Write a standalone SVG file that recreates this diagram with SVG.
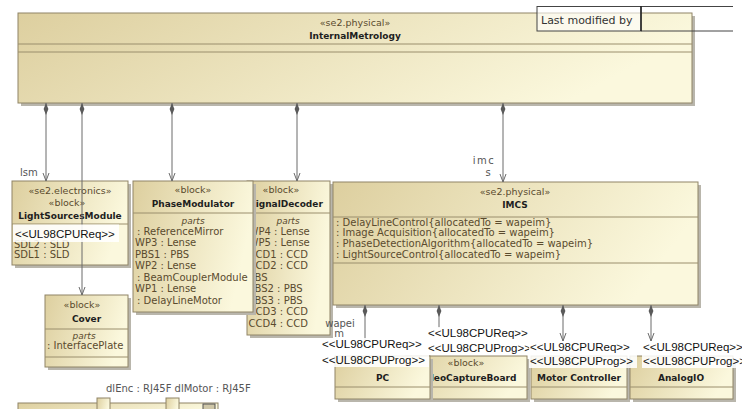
<svg xmlns="http://www.w3.org/2000/svg" width="742" height="409" viewBox="0 0 742 409">
  <defs>
    <linearGradient id="fillBlock" x1="0" y1="0" x2="1" y2="0.25">
      <stop offset="0" stop-color="#ddcf9f"/>
      <stop offset="1" stop-color="#fbf8dd"/>
    </linearGradient>
    <marker id="arrowOpen" markerWidth="10" markerHeight="10" refX="8" refY="4" orient="auto" markerUnits="userSpaceOnUse">
      <path d="M0,1 L8,4 L0,7" fill="none" stroke="#6a6a6a" stroke-width="1"/>
    </marker>
    <marker id="diamond" markerWidth="14" markerHeight="8" refX="0" refY="3" orient="auto" markerUnits="userSpaceOnUse">
      <path d="M0,3 L6,0.6 L12,3 L6,5.4 Z" fill="#5a5a5a"/>
    </marker>
    <style>
      .box{fill:url(#fillBlock);stroke:#8f8466;stroke-width:1}
      .shadow{fill:#b9b6ac}
      .div{stroke:#9a8e6c;stroke-width:1;fill:none}
      .st{font-family:"DejaVu Sans",sans-serif;font-size:9.5px;fill:#5a4b2e;text-anchor:middle}
      .nm{font-family:"DejaVu Sans",sans-serif;font-size:9px;font-weight:bold;fill:#1e1e1e;text-anchor:middle}
      .it{font-family:"DejaVu Sans",sans-serif;font-size:9px;font-style:italic;fill:#5a4b2e;text-anchor:middle}
      .pt{font-family:"DejaVu Sans",sans-serif;font-size:10px;fill:#5a4b2e}
      .lbl{font-family:"DejaVu Sans",sans-serif;font-size:10px;fill:#555}
      .ul{font-family:"Liberation Sans",Arial,sans-serif;font-size:11.5px;fill:#111}
      .ulbg{fill:#ffffff;fill-opacity:0.88}
      .conn{stroke:#6a6a6a;stroke-width:1;fill:none}
    </style>
  </defs>

  <!-- top level block -->
  <g id="InternalMetrology">
    <rect class="shadow" x="21" y="16" width="674" height="90"/>
    <rect class="box" x="18" y="13" width="674" height="90"/>
    <line class="div" x1="18" y1="44" x2="692" y2="44"/>
    <line class="div" x1="18" y1="52" x2="692" y2="52"/>
    <text class="st" x="355" y="26">«se2.physical»</text>
    <text class="nm" x="355" y="38.5">InternalMetrology</text>
  </g>

  <!-- frame info table -->
  <g id="LastModified">
    <rect x="537" y="6.5" width="104" height="24.5" fill="#ffffff" fill-opacity="0.6" stroke="#444" stroke-width="1"/>
    <line x1="641" y1="6.5" x2="733" y2="6.5" stroke="#444" stroke-width="1"/>
    <line x1="641" y1="31" x2="733" y2="31" stroke="#444" stroke-width="1"/>
    <line x1="641" y1="6" x2="641" y2="31" stroke="#222" stroke-width="1.5"/>
    <text x="541" y="24" font-family="DejaVu Sans, sans-serif" font-size="11" fill="#333">Last modified by</text>
  </g>

  <g id="LightSourcesModule">
    <rect class="shadow" x="15" y="184" width="116" height="84"/>
    <rect class="box" x="12" y="181" width="116" height="84"/>
    <text class="st" x="70" y="194">«se2.electronics»</text>
    <text class="st" x="67" y="206">«block»</text>
    <text class="nm" x="70" y="219">LightSourcesModule</text>
    <line class="div" x1="12" y1="224" x2="128" y2="224"/>
    <text class="pt" x="14" y="248">SDL2 : SLD</text>
    <text class="pt" x="14" y="258">SDL1 : SLD</text>
  </g>

  <g id="SignalDecoder">
    <rect class="shadow" x="250" y="184" width="83" height="154"/>
    <rect class="box" x="247" y="181" width="83" height="154"/>
    <text class="st" x="281" y="193">«block»</text>
    <text class="nm" x="286" y="207">SignalDecoder</text>
    <line class="div" x1="247" y1="213" x2="330" y2="213"/>
    <text class="it" x="288" y="224">parts</text>
    <text class="pt" x="248.5" y="234.5">WP4 : Lense</text>
    <text class="pt" x="248.5" y="246">WP5 : Lense</text>
    <text class="pt" x="248.5" y="257.5">CCD1 : CCD</text>
    <text class="pt" x="248.5" y="269">CCD2 : CCD</text>
    <text class="pt" x="248.5" y="280.5">PBS</text>
    <text class="pt" x="248.5" y="292">PBS2 : PBS</text>
    <text class="pt" x="248.5" y="303.5">PBS3 : PBS</text>
    <text class="pt" x="248.5" y="315">CCD3 : CCD</text>
    <text class="pt" x="248.5" y="326.5">CCD4 : CCD</text>
  </g>

  <g id="PhaseModulator">
    <rect class="shadow" x="136" y="184" width="120" height="131"/>
    <rect class="box" x="133" y="181" width="120" height="131"/>
    <text class="st" x="193" y="193">«block»</text>
    <text class="nm" x="193" y="207">PhaseModulator</text>
    <line class="div" x1="133" y1="213" x2="253" y2="213"/>
    <text class="it" x="193" y="224">parts</text>
    <text class="pt" x="137" y="234.5">: ReferenceMirror</text>
    <text class="pt" x="135" y="246">WP3 : Lense</text>
    <text class="pt" x="135" y="257.5">PBS1 : PBS</text>
    <text class="pt" x="135" y="269">WP2 : Lense</text>
    <text class="pt" x="137" y="280.5">: BeamCouplerModule</text>
    <text class="pt" x="135" y="292">WP1 : Lense</text>
    <text class="pt" x="137" y="303.5">: DelayLineMotor</text>
  </g>

  <g id="Cover">
    <rect class="shadow" x="48" y="298" width="83" height="72"/>
    <rect class="box" x="45" y="295" width="83" height="72"/>
    <text class="st" x="82" y="307.5">«block»</text>
    <text class="nm" x="86.5" y="322">Cover</text>
    <line class="div" x1="45" y1="329" x2="128" y2="329"/>
    <text class="it" x="84" y="339">parts</text>
    <text class="pt" x="47" y="349">: InterfacePlate</text>
    <line class="div" x1="45" y1="357" x2="128" y2="357"/>
  </g>

  <g id="IMCS">
    <rect class="shadow" x="336" y="185" width="365" height="123"/>
    <rect class="box" x="333" y="182" width="365" height="123"/>
    <text class="st" x="515" y="195">«se2.physical»</text>
    <text class="nm" x="515" y="207.5">IMCS</text>
    <line class="div" x1="333" y1="217" x2="698" y2="217"/>
    <text class="pt" x="336" y="225.5">: DelayLineControl{allocatedTo = wapeim}</text>
    <text class="pt" x="336" y="236">: Image Acquisition{allocatedTo = wapeim}</text>
    <text class="pt" x="336" y="247">: PhaseDetectionAlgorithm{allocatedTo = wapeim}</text>
    <text class="pt" x="336" y="258">: LightSourceControl{allocatedTo = wapeim}</text>
    <line class="div" x1="333" y1="263" x2="698" y2="263"/>
  </g>

  <g id="VideoCaptureBoard">
    <rect class="shadow" x="408" y="359" width="122" height="43"/>
    <rect class="box" x="405" y="356" width="122" height="43"/>
    <text class="st" x="466" y="365.5">«block»</text>
    <text class="nm" x="467" y="380.5">VideoCaptureBoard</text>
    <line class="div" x1="405" y1="387" x2="527" y2="387"/>
  </g>

  <g id="PC">
    <rect class="shadow" x="338" y="359" width="95" height="43"/>
    <rect class="box" x="335" y="356" width="95" height="43"/>
    <text class="nm" x="382.5" y="380.5">PC</text>
    <line class="div" x1="335" y1="387" x2="430" y2="387"/>
  </g>

  <g id="MotorController">
    <rect class="shadow" x="534" y="359" width="96" height="43"/>
    <rect class="box" x="531" y="356" width="96" height="43"/>
    <text class="nm" x="579" y="380.5">Motor Controller</text>
    <line class="div" x1="531" y1="387" x2="627" y2="387"/>
  </g>

  <g id="AnalogIO">
    <rect class="shadow" x="633" y="359" width="103" height="43"/>
    <rect class="box" x="630" y="356" width="103" height="43"/>
    <text class="nm" x="681" y="380.5">AnalogIO</text>
    <line class="div" x1="630" y1="387" x2="733" y2="387"/>
  </g>

  <g id="PortBlock">
    <rect class="box" x="18" y="403" width="200" height="12"/>
    <rect class="box" x="97" y="398" width="13" height="14" fill="#f7f2d2"/>
    <rect class="box" x="166" y="398" width="13" height="14" fill="#f7f2d2"/>
    <rect x="203" y="404" width="12" height="8" fill="#cfc7a8" stroke="#555" stroke-width="1"/>
    <text class="lbl" x="106" y="392" fill="#444">dlEnc : RJ45F dlMotor : RJ45F</text>
  </g>

  <!-- part associations -->
  <g id="connectors">
    <path class="conn" d="M46,103 V181" marker-start="url(#diamond)" marker-end="url(#arrowOpen)"/>
    <path class="conn" d="M82,103 V295" marker-start="url(#diamond)" marker-end="url(#arrowOpen)"/>
    <path class="conn" d="M172,103 V181" marker-start="url(#diamond)" marker-end="url(#arrowOpen)"/>
    <path class="conn" d="M297,103 V181" marker-start="url(#diamond)" marker-end="url(#arrowOpen)"/>
    <path class="conn" d="M503,103 V182" marker-start="url(#diamond)" marker-end="url(#arrowOpen)"/>
    <path class="conn" d="M365,305 V340" marker-start="url(#diamond)"/>
    <path class="conn" d="M439,305 V328" marker-start="url(#diamond)"/>
    <path class="conn" d="M563,305 V341" marker-start="url(#diamond)" marker-end="url(#arrowOpen)"/>
    <path class="conn" d="M651,305 V341" marker-start="url(#diamond)" marker-end="url(#arrowOpen)"/>
    <text class="lbl" x="20" y="176">lsm</text>
    <text class="lbl" x="484" y="164" text-anchor="middle" letter-spacing="1.5">imc</text>
    <text class="lbl" x="488" y="175.5" text-anchor="middle">s</text>
    <text class="lbl" x="340" y="327" text-anchor="middle" font-size="9">wapei</text>
    <text class="lbl" x="339" y="336.5" text-anchor="middle" font-size="9">m</text>
  </g>

  <!-- requirement stereotype tags -->
  <g id="tags">
    <rect class="ulbg" x="13" y="224.5" width="106" height="17.5"/>
    <text class="ul" x="15" y="238" font-size="12">&lt;&lt;UL98CPUReq&gt;&gt;</text>

    <rect class="ulbg" x="321" y="338" width="102" height="13"/>
    <text class="ul" x="322" y="347.5">&lt;&lt;UL98CPUReq&gt;&gt;</text>
    <rect class="ulbg" x="321" y="353" width="108" height="14"/>
    <text class="ul" x="322" y="364">&lt;&lt;UL98CPUProg&gt;&gt;</text>

    <rect class="ulbg" x="427" y="327" width="98" height="13"/>
    <text class="ul" x="428" y="337">&lt;&lt;UL98CPUReq&gt;&gt;</text>
    <rect class="ulbg" x="427" y="341" width="104" height="14"/>
    <text class="ul" x="428" y="352">&lt;&lt;UL98CPUProg&gt;&gt;</text>

    <rect class="ulbg" x="529" y="341" width="102" height="13"/>
    <text class="ul" x="530" y="351">&lt;&lt;UL98CPUReq&gt;&gt;</text>
    <rect class="ulbg" x="529" y="355" width="108" height="13"/>
    <text class="ul" x="530" y="364.5">&lt;&lt;UL98CPUProg&gt;&gt;</text>

    <rect class="ulbg" x="642" y="341" width="100" height="13"/>
    <text class="ul" x="643" y="351">&lt;&lt;UL98CPUReq&gt;&gt;</text>
    <rect class="ulbg" x="642" y="355" width="100" height="13"/>
    <text class="ul" x="643" y="364.5">&lt;&lt;UL98CPUProg&gt;&gt;</text>
  </g>
</svg>
